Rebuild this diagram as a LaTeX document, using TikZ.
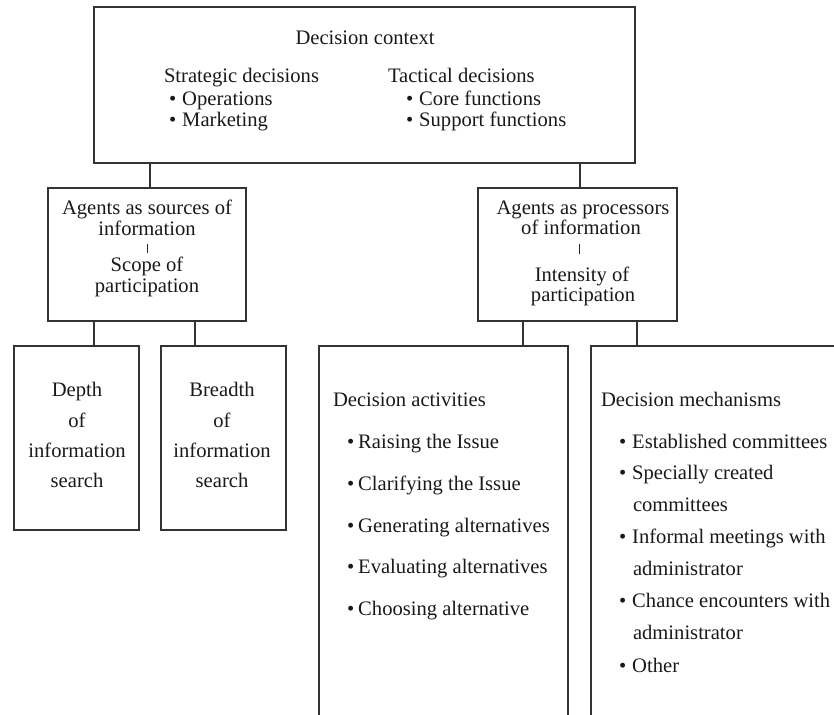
\documentclass[tikz,border=0pt]{standalone}
\usepackage{fontspec}
\setmainfont{Liberation Serif}
\begin{document}
\begin{tikzpicture}[x=1pt,y=-1pt,
  box/.style={draw=black!80, line width=1.1pt, inner sep=0pt, outer sep=0pt, rectangle},
  txt/.style={inner sep=0pt, outer sep=0pt, font=\fontsize{20.6}{22}\selectfont, text=black!90},
  lft/.style={txt, anchor=base west},
  ctr/.style={txt, anchor=base},
  conn/.style={draw=black!80, line width=1.1pt},
  bar/.style={draw=black!85, line width=1pt}]
\useasboundingbox (0,0) rectangle (834,714);
\clip (0,0) rectangle (834,714);
% boxes
\node[box, minimum width=541pt, minimum height=156pt] (ctx) at (364.5,85) {};
\node[box, minimum width=198pt, minimum height=133pt] (agL) at (147,254.5) {};
\node[box, minimum width=199pt, minimum height=133pt] (agR) at (577.5,254.5) {};
\node[box, minimum width=125pt, minimum height=184pt] (b1) at (76.5,438) {};
\node[box, minimum width=125pt, minimum height=184pt] (b2) at (223.5,438) {};
\node[box, minimum width=249pt, minimum height=434pt] (b3) at (443.5,563) {};
\node[box, minimum width=309pt, minimum height=434pt] (b4) at (745.5,563) {};
% connector columns
\coordinate (cL) at (150,0);
\coordinate (cR) at (580,0);
\coordinate (c1) at (94,0);
\coordinate (c2) at (195,0);
\coordinate (c3) at (523,0);
\coordinate (c4) at (637,0);
\draw[conn] (ctx.south -| cL) -- (agL.north -| cL);
\draw[conn] (ctx.south -| cR) -- (agR.north -| cR);
\draw[conn] (agL.south -| c1) -- (b1.north -| c1);
\draw[conn] (agL.south -| c2) -- (b2.north -| c2);
\draw[conn] (agR.south -| c3) -- (b3.north -| c3);
\draw[conn] (agR.south -| c4) -- (b4.north -| c4);
% top box text
\node[ctr] (t0) at (365,45) {Decision context};
\node[lft] (t1) at (164,83) {Strategic decisions};
\node[lft] (t2) at (169,106) {\textbullet\hspace{6pt}Operations};
\node[lft] (t3) at (169,127) {\textbullet\hspace{6pt}Marketing};
\node[lft] (t4) at (388,83) {Tactical decisions};
\node[lft] (t5) at (406,106) {\textbullet\hspace{6pt}Core functions};
\node[lft] (t6) at (406,127) {\textbullet\hspace{6pt}Support functions};
% left middle box
\node[ctr] (l1) at (147,214) {Agents as sources of};
\node[ctr] (l2) at (147,235) {information};
\coordinate (lb1) at (147,244);
\coordinate (lb2) at (147,253);
\draw[bar] (lb1) -- (lb2);
\node[ctr] (l3) at (147,271) {Scope of};
\node[ctr] (l4) at (147,292) {participation};
% right middle box
\node[ctr] (r1) at (583,214) {Agents as processors};
\node[ctr] (r2) at (581,234) {of information};
\coordinate (rb1) at (579,244);
\coordinate (rb2) at (579,254);
\draw[bar] (rb1) -- (rb2);
\node[ctr] (r3) at (582,281) {Intensity of};
\node[ctr] (r4) at (583,301) {participation};
% bottom boxes 1 and 2
\node[ctr] (d1) at (77,396) {Depth};
\node[ctr] (d2) at (77,427) {of};
\node[ctr] (d3) at (77,457) {information};
\node[ctr] (d4) at (77,487) {search};
\node[ctr] (e1) at (222,396) {Breadth};
\node[ctr] (e2) at (222,427) {of};
\node[ctr] (e3) at (222,457) {information};
\node[ctr] (e4) at (222,487) {search};
% box 3
\node[lft] (a0) at (333,406) {Decision activities};
\node[lft] (a1) at (347,448) {\textbullet\hspace{4pt}Raising the Issue};
\node[lft] (a2) at (347,490) {\textbullet\hspace{4pt}Clarifying the Issue};
\node[lft] (a3) at (347,532) {\textbullet\hspace{4pt}Generating alternatives};
\node[lft] (a4) at (347,573) {\textbullet\hspace{4pt}Evaluating alternatives};
\node[lft] (a5) at (347,615) {\textbullet\hspace{4pt}Choosing alternative};
% box 4
\node[lft] (m0) at (601,406) {Decision mechanisms};
\node[lft] (m1) at (619,448) {\textbullet\hspace{6pt}Established committees};
\node[lft] (m2) at (619,479) {\textbullet\hspace{6pt}Specially created};
\node[lft] (m3) at (633,511) {committees};
\node[lft] (m4) at (619,543) {\textbullet\hspace{6pt}Informal meetings with};
\node[lft] (m5) at (633,575) {administrator};
\node[lft] (m6) at (619,607) {\textbullet\hspace{6pt}Chance encounters with};
\node[lft] (m7) at (633,639) {administrator};
\node[lft] (m8) at (619,672) {\textbullet\hspace{6pt}Other};
\end{tikzpicture}
\end{document}
